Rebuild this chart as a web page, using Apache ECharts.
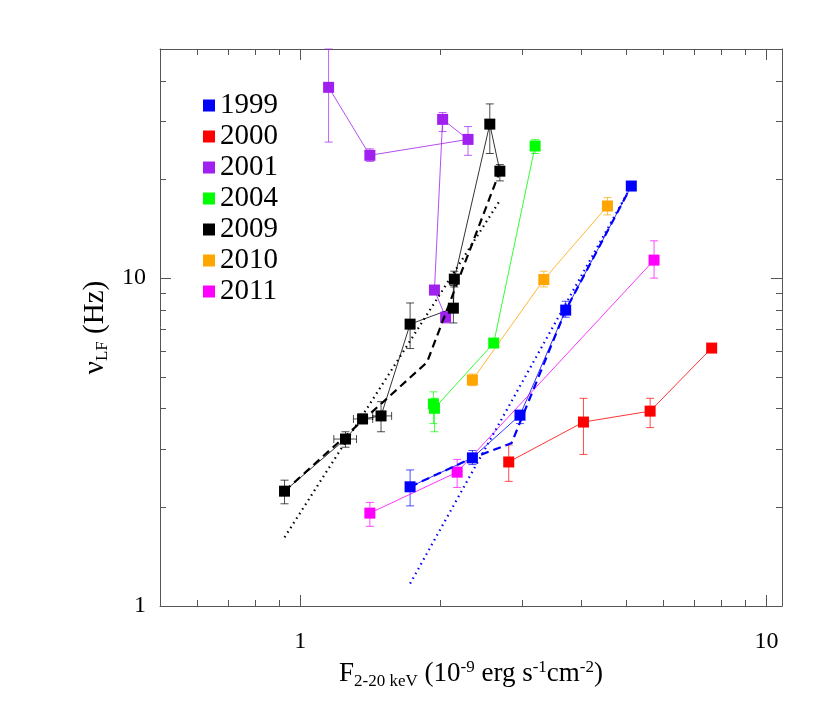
<!DOCTYPE html>
<html lang="en">
<head>
    <meta charset="UTF-8">
    <title>QPO frequency vs flux</title>
    <script type="text/javascript" src="https://cdn.jsdelivr.net/npm/echarts@6/dist/echarts.min.js"></script>
</head>
<body style="margin:0">
    <div id="container" style="width:830px;height:708px"></div>

    <script type="text/javascript">
        // each point: [flux, freq, freqLow, freqHigh, fluxLow, fluxHigh]
        var years = ['1999', '2000', '2001', '2004', '2009', '2010', '2011'];
        var colors = ['#0000ff', '#ff0000', '#a020f0', '#00ff00', '#000000', '#ffa500', '#ff00ff'];

        var d1999 = [[1.72, 2.31, 2.02, 2.6], [2.34, 2.83, 2.7, 2.98], [2.96, 3.82, 3.6, 3.95], [3.71, 7.99, 7.6, 8.5], [5.13, 19.1, 18.5, 19.6]];
        var d2000 = [[2.80, 2.75, 2.4, 3.1], [4.05, 3.64, 2.9, 4.3], [5.63, 3.93, 3.5, 4.3], [7.63, 6.12, 6.0, 6.25]];
        var d2001 = [[1.15, 38.2, 26, 50], [1.41, 23.7, 22.7, 24.8], [2.29, 26.5, 23.7, 29], [2.02, 30.5, 28, 32], [1.94, 9.2, 8.9, 9.4], [2.05, 7.6, 7.3, 7.9]];
        var d2004 = [[1.93, 4.13, 3.6, 4.5], [1.94, 4.01, 3.4, 4.3], [2.60, 6.34, 6.2, 6.5], [3.19, 25.3, 24, 26.5]];
        var d2009 = [[0.925, 2.24, 2.05, 2.42], [1.25, 3.23, 3.05, 3.4, 1.18, 1.32], [1.36, 3.72, 3.6, 3.85, 1.3, 1.43], [1.49, 3.80, 3.4, 4.2, 1.43, 1.57],
                     [1.72, 7.24, 6.1, 8.4], [2.13, 8.1, 7.3, 9.5], [2.14, 9.93, 9.4, 10.5], [2.55, 29.5, 24, 34], [2.68, 21.2, 19.8, 22.2]];
        var d2010 = [[2.34, 4.89, 4.7, 5.1], [3.33, 9.9, 9.4, 10.5], [4.56, 16.6, 15.6, 17.6]];
        var d2011 = [[1.41, 1.92, 1.75, 2.07], [2.17, 2.56, 2.3, 2.8], [5.74, 11.35, 10, 13]];
        var allData = [d1999, d2000, d2001, d2004, d2009, d2010, d2011];

        // model curves
        var fit2009Dotted = [[0.925, 1.62], [2.67, 17.1]];
        var fit2009Dashed = [[0.925, 2.24], [1.87, 5.54], [2.68, 21.2]];
        var fit1999Dotted = [[1.72, 1.17], [5.13, 19.1]];
        var fit1999Dashed = [[1.72, 2.31], [2.34, 2.83], [2.84, 3.14], [3.71, 7.99], [5.13, 19.1]];

        var serif = 'Liberation Serif';
        var dom = document.getElementById('container');
        var myChart = echarts.init(dom);

        function errorBars(color) {
            return function (params, api) {
                var x = api.value(0), y = api.value(1);
                var lo = api.coord([x, api.value(2)]), hi = api.coord([x, api.value(3)]);
                var st = {stroke: color, lineWidth: 1, opacity: 0.7};
                var cap = 4;
                var kids = [
                    {type: 'line', shape: {x1: lo[0], y1: lo[1], x2: hi[0], y2: hi[1]}, style: st},
                    {type: 'line', shape: {x1: lo[0] - cap, y1: lo[1], x2: lo[0] + cap, y2: lo[1]}, style: st},
                    {type: 'line', shape: {x1: hi[0] - cap, y1: hi[1], x2: hi[0] + cap, y2: hi[1]}, style: st}
                ];
                var xl = api.value(4);
                if (!isNaN(xl) && xl) {
                    var l = api.coord([xl, y]), r = api.coord([api.value(5), y]);
                    kids.push({type: 'line', shape: {x1: l[0], y1: l[1], x2: r[0], y2: r[1]}, style: st});
                    kids.push({type: 'line', shape: {x1: l[0], y1: l[1] - cap, x2: l[0], y2: l[1] + cap}, style: st});
                    kids.push({type: 'line', shape: {x1: r[0], y1: r[1] - cap, x2: r[0], y2: r[1] + cap}, style: st});
                }
                return {type: 'group', children: kids};
            };
        }

        var series = [];
        allData.forEach(function (d, i) {
            var rows = d.map(function (p) { return [p[0], p[1], p[2], p[3], p[4] || 0, p[5] || 0]; });
            series.push({
                type: 'custom', name: years[i], renderItem: errorBars(colors[i]),
                itemStyle: {color: colors[i]},
                data: rows, encode: {x: 0, y: [1, 2, 3]}, silent: true, z: 2
            });
            series.push({
                type: 'line', name: years[i], data: d.map(function (p) { return [p[0], p[1]]; }),
                symbol: 'rect', symbolSize: 11, color: colors[i],
                lineStyle: {width: 1, color: colors[i], opacity: 0.8},
                itemStyle: {color: colors[i]}, z: 3, animation: false
            });
        });
        function fitLine(d, color, type) {
            return {type: 'line', data: d, symbol: 'none', z: 4, animation: false,
                lineStyle: {color: color, width: 2.2, type: type}};
        }
        series.push(fitLine(fit2009Dotted, '#000', [1.5, 4]));
        series.push(fitLine(fit2009Dashed, '#000', [8, 5]));
        series.push(fitLine(fit1999Dotted, '#0000ff', [1.5, 4]));
        series.push(fitLine(fit1999Dashed, '#0000ff', [8, 5]));

        var axisLine = {lineStyle: {color: '#555', width: 1}};
        var tickStyle = {inside: true, length: 11, lineStyle: {color: '#555'}};
        var minor = {show: true, splitNumber: 9, length: 6, lineStyle: {color: '#555'}};

        option = {
            animation: false,
            grid: {left: 160, right: 48, top: 49, bottom: 102},
            legend: {
                left: 198, top: 86, orient: 'vertical', itemGap: 2,
                icon: 'rect', itemWidth: 12, itemHeight: 12,
                data: years.map(function (y, i) { return {name: y, itemStyle: {color: colors[i]}}; }),
                textStyle: {fontFamily: serif, fontSize: 29, color: '#000'}
            },
            xAxis: [{
                type: 'log', min: 0.5, max: 10.8, logBase: 10,
                name: '{t|F}{s|2-20 keV}{t| (10}{p|-9}{t| erg s}{p|-1}{t|cm}{p|-2}{t|)}',
                nameLocation: 'middle', nameGap: 48,
                nameTextStyle: {rich: {
                    t: {fontFamily: serif, fontSize: 27, color: '#000'},
                    s: {fontFamily: serif, fontSize: 17, color: '#000', padding: [14, 0, 0, 0]},
                    p: {fontFamily: serif, fontSize: 17, color: '#000', padding: [0, 0, 14, 0]}
                }},
                axisLine: axisLine, axisTick: tickStyle, minorTick: minor, splitLine: {show: false},
                axisLabel: {fontFamily: serif, fontSize: 24, color: '#000', margin: 24,
                    formatter: function (v) { return (v === 1 || v === 10) ? String(v) : ''; }}
            }, {
                type: 'log', min: 0.5, max: 10.8, position: 'top',
                axisLine: axisLine, axisTick: tickStyle, minorTick: minor, splitLine: {show: false},
                axisLabel: {show: false}
            }],
            yAxis: [{
                type: 'log', min: 1, max: 50,
                name: '{t|ν}{s|LF}{t| (Hz)}', nameLocation: 'middle', nameGap: 42, nameRotate: 90,
                nameTextStyle: {rich: {
                    t: {fontFamily: serif, fontSize: 29, color: '#000'},
                    s: {fontFamily: serif, fontSize: 17, color: '#000', padding: [14, 0, 0, 0]}
                }},
                axisLine: axisLine, axisTick: tickStyle, minorTick: minor, splitLine: {show: false},
                axisLabel: {fontFamily: serif, fontSize: 24, color: '#000', margin: 14,
                    formatter: function (v) { return (v === 1 || v === 10) ? String(v) : ''; }}
            }, {
                type: 'log', min: 1, max: 50, position: 'right',
                axisLine: axisLine, axisTick: tickStyle, minorTick: minor, splitLine: {show: false},
                axisLabel: {show: false}
            }],
            series: series
        };

        if (option && typeof option === 'object') {
            myChart.setOption(option, true);
        }
    </script>
</body>
</html>
